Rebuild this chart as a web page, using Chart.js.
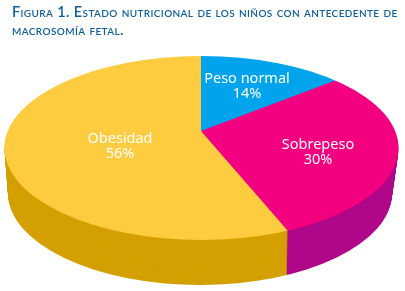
<!DOCTYPE html>
<html lang="es">
<head>
<meta charset="utf-8">
<title>Figura 1</title>
<script src="https://cdn.jsdelivr.net/npm/chart.js@4"></script>
<style>
  html, body { margin: 0; padding: 0; background: #fff; }
  #wrap { position: relative; width: 405px; height: 291px; overflow: hidden; }
  #pie { position: absolute; left: 0; top: 0; }
  .title {
    position: absolute; left: 12px; white-space: nowrap;
    font: 600 14.5px Lato, sans-serif; font-variant: small-caps;
    letter-spacing: 0.38px;
    color: #0f5f9e; line-height: 18px;
  }
</style>
</head>
<body>
<div id="wrap">
  <canvas id="pie" width="405" height="291"></canvas>
  <div class="title" style="top:3px">Figura 1. Estado nutricional de los niños con antecedente de</div>
  <div class="title" style="top:21px">macrosomía fetal.</div>
</div>
<script>
const categories = ['Peso normal', 'Sobrepeso', 'Obesidad'];
const percents = [14, 30, 56];
const topColors = ['#00a4ec', '#f2007f', '#ffcb3f'];
const wallColors = ['#00a4ec', '#b0088a', '#d4a000'];

// layout of the tilted pie, in page pixels
const apex = { x: 201, y: 131 };
const tilt = 0.455;
const zoom = 2;
const rim = { x: 201.5, y: 148, rx: 197, ry: 92 };
const base = { x: 200, y: 193, rx: 192, ry: 92 };
const labelSpots = [
  { x: 247, y: 79 }, { x: 318, y: 145 }, { x: 120, y: 139 },
];

const tiltedPie = {
  id: 'tiltedPie',
  beforeDatasetsDraw(chart) {
    const ctx = chart.ctx;
    const arcs = chart.getDatasetMeta(0).data;

    const paint = (shape, dy, colors) => {
      ctx.save();
      ctx.beginPath();
      ctx.ellipse(shape.x, shape.y, shape.rx, shape.ry, 0, 0, Math.PI * 2);
      ctx.clip();
      ctx.translate(apex.x, apex.y + dy);
      ctx.scale(zoom, zoom * tilt);
      ctx.translate(-arcs[0].x, -arcs[0].y);
      arcs.forEach((arc, i) => {
        const copy = Object.create(arc);
        copy.options = { ...arc.options, backgroundColor: colors[i] };
        copy.draw(ctx);
      });
      ctx.restore();
    };

    // side wall, stacked from the bottom rim up to the top face
    const depth = base.y - rim.y;
    for (let d = depth; d > 0; d--) {
      const t = d / depth;
      paint({
        x: rim.x + (base.x - rim.x) * t,
        y: rim.y + d,
        rx: rim.rx + (base.rx - rim.rx) * t,
        ry: rim.ry,
      }, d, wallColors);
    }
    paint(rim, 0, topColors);
    return false;
  },
  afterDraw(chart) {
    const ctx = chart.ctx;
    ctx.save();
    ctx.fillStyle = '#fff';
    ctx.font = '14.5px "Noto Sans", sans-serif';
    ctx.textAlign = 'center';
    ctx.textBaseline = 'middle';
    categories.forEach((name, i) => {
      ctx.fillText(name, labelSpots[i].x, labelSpots[i].y);
      ctx.fillText(percents[i] + '%', labelSpots[i].x, labelSpots[i].y + 15);
    });
    ctx.restore();
  },
};

new Chart(document.getElementById('pie'), {
  type: 'pie',
  data: {
    labels: categories,
    datasets: [{ data: percents, backgroundColor: topColors, borderWidth: 0 }],
  },
  options: {
    responsive: false,
    animation: false,
    events: [],
    plugins: { legend: { display: false }, tooltip: { enabled: false } },
  },
  plugins: [tiltedPie],
});
</script>
</body>
</html>
